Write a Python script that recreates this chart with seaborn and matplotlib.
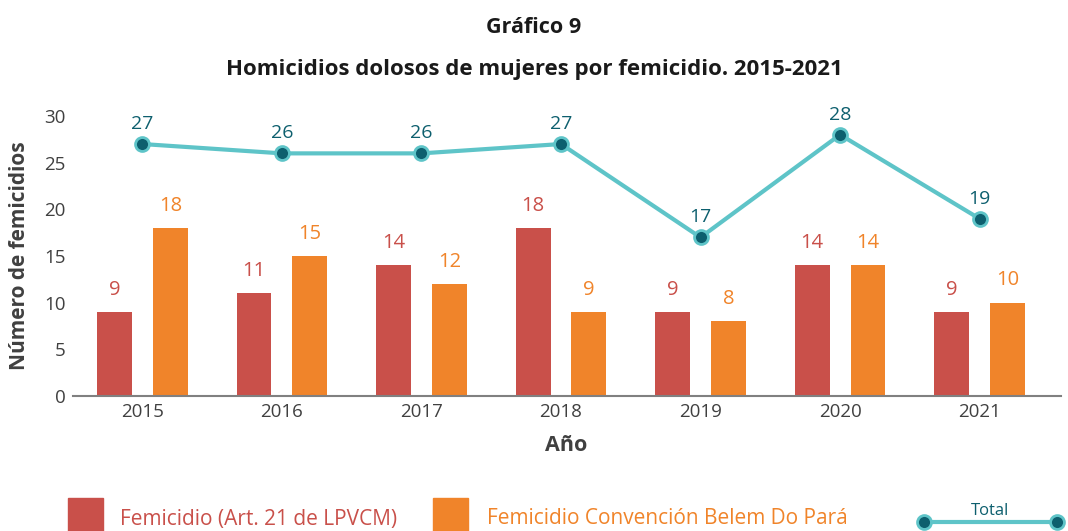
import matplotlib
matplotlib.use("Agg")
import matplotlib.pyplot as plt
from matplotlib.patches import Rectangle
from matplotlib.lines import Line2D
import seaborn as sns
import pandas as pd

# Datos del gráfico
anios = ["2015", "2016", "2017", "2018", "2019", "2020", "2021"]
femicidio_lpvcm = [9, 11, 14, 18, 9, 14, 9]
femicidio_belem = [18, 15, 12, 9, 8, 14, 10]
total = [27, 26, 26, 27, 17, 28, 19]

serie_lpvcm = "Femicidio (Art. 21 de LPVCM)"
serie_belem = "Femicidio Convención Belem Do Pará"

ROJO = "#C9504A"
NARANJA = "#F0842A"
TURQUESA = "#5EC4C8"
AZUL = "#0D5F6E"
GRIS = "#404040"

sns.set_theme(style="white")
plt.rcParams["font.family"] = ["Open Sans", "DejaVu Sans"]

df = pd.DataFrame({
    "anio": anios * 2,
    "valor": femicidio_lpvcm + femicidio_belem,
    "serie": [serie_lpvcm] * len(anios) + [serie_belem] * len(anios),
})

fig = plt.figure(figsize=(10.68, 5.31), dpi=100)
ax = fig.add_axes([0.068, 0.254, 0.925, 0.5275])

sns.barplot(data=df, x="anio", y="valor", hue="serie",
            palette=[ROJO, NARANJA], gap=0.375, width=0.8,
            legend=False, ax=ax, saturation=1, linewidth=0)

for cont, col in zip(ax.containers, [ROJO, NARANJA]):
    ax.bar_label(cont, padding=9, color=col, fontsize=14.5)

# Línea del total
sns.pointplot(x=anios, y=total, color=TURQUESA, markers="o",
              linewidth=3, markersize=10, markerfacecolor=AZUL,
              markeredgecolor=TURQUESA, markeredgewidth=2, ax=ax)
for i, v in enumerate(total):
    ax.annotate(str(v), (i, v), xytext=(0, 8), textcoords="offset points",
                ha="center", va="bottom", color=AZUL, fontsize=14,
                annotation_clip=False)

ax.set_ylim(0, 30)
ax.set_yticks(range(0, 31, 5))
ax.set_xlim(-0.5, 6.58)
ax.tick_params(axis="both", length=0, labelsize=13.5, colors=GRIS, pad=5)
for s in ["top", "right", "left"]:
    ax.spines[s].set_visible(False)
ax.spines["bottom"].set_color("#808080")
ax.spines["bottom"].set_linewidth(1.5)

ax.set_xlabel("Año", fontsize=15.5, fontweight="bold", color=GRIS, labelpad=10)
ax.set_ylabel("Número de femicidios", fontsize=15, fontweight="bold",
              color=GRIS, labelpad=10)

fig.text(0.5, 0.948, "Gráfico 9", ha="center", va="center",
         fontsize=15.5, fontweight="bold", color="#1a1a1a")
fig.text(0.5, 0.869, "Homicidios dolosos de mujeres por femicidio. 2015-2021",
         ha="center", va="center", fontsize=16, fontweight="bold",
         color="#1a1a1a")

# Leyenda
fig.patches.append(Rectangle((68 / 1068, 0), 35 / 1068, 33 / 531,
                             transform=fig.transFigure, color=ROJO))
fig.text(120 / 1068, 12 / 531, serie_lpvcm, color=ROJO, fontsize=15,
         va="center")
fig.patches.append(Rectangle((433 / 1068, 0), 35 / 1068, 33 / 531,
                             transform=fig.transFigure, color=NARANJA))
fig.text(487 / 1068, 12 / 531, serie_belem, color=NARANJA, fontsize=15,
         va="center")
fig.lines.append(Line2D([924 / 1068, 1057 / 1068], [9 / 531, 9 / 531],
                        transform=fig.transFigure, color=TURQUESA,
                        linewidth=3, marker="o", markersize=10,
                        markerfacecolor=AZUL, markeredgecolor=TURQUESA,
                        markeredgewidth=2))
fig.text(990 / 1068, 20 / 531, "Total", color=AZUL, fontsize=12,
         ha="center", va="center")

fig.savefig("out.png", dpi=100)
